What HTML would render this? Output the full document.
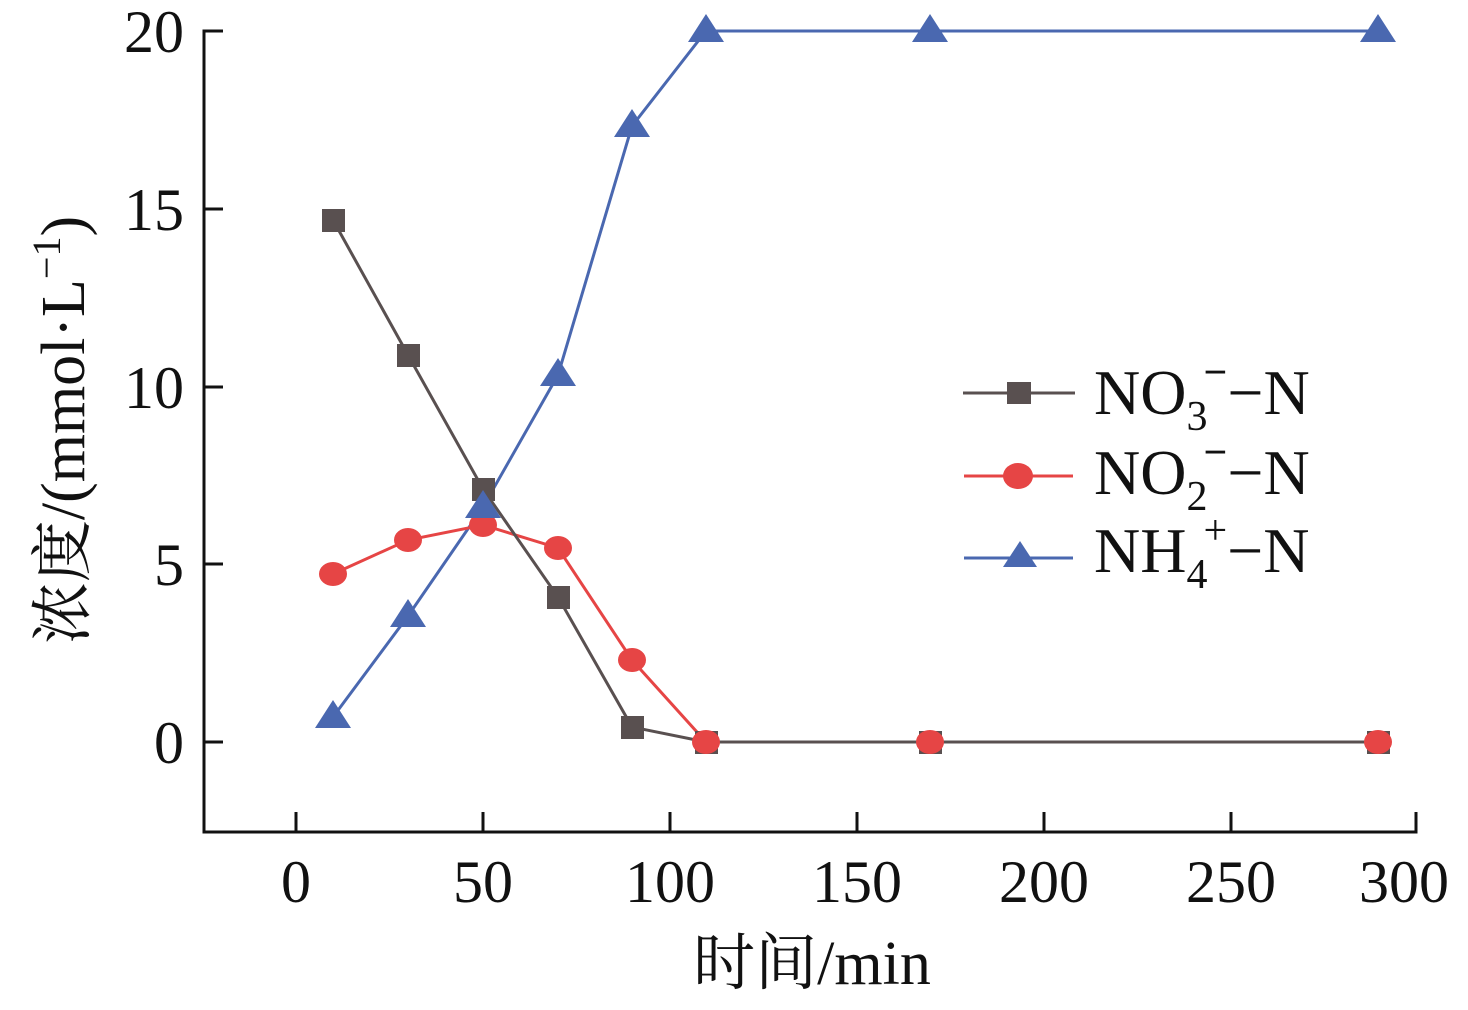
<!DOCTYPE html>
<html><head><meta charset="utf-8"><style>
html,body{margin:0;padding:0;background:#fff;}
svg text{font-family:"Liberation Serif","Noto Serif CJK SC",serif;fill:#111;}
</style></head><body>
<svg width="1468" height="1005" viewBox="0 0 1468 1005" xmlns="http://www.w3.org/2000/svg">
<g stroke="#111" stroke-width="3" fill="none">
<polyline points="223,31 204,31 204,832 1416,832 1416,812"/>
<line x1="204" y1="209" x2="223" y2="209"/>
<line x1="204" y1="387" x2="223" y2="387"/>
<line x1="204" y1="564" x2="223" y2="564"/>
<line x1="204" y1="742" x2="223" y2="742"/>
<line x1="296" y1="832" x2="296" y2="812"/>
<line x1="483" y1="832" x2="483" y2="812"/>
<line x1="670" y1="832" x2="670" y2="812"/>
<line x1="857" y1="832" x2="857" y2="812"/>
<line x1="1044" y1="832" x2="1044" y2="812"/>
<line x1="1231" y1="832" x2="1231" y2="812"/>
</g>
<g font-size="60" text-anchor="end">
<text x="184" y="52">20</text><text x="184" y="230">15</text><text x="184" y="408">10</text><text x="184" y="585">5</text><text x="184" y="763">0</text>
</g>
<g font-size="60" text-anchor="middle">
<text x="296" y="902">0</text><text x="483" y="902">50</text><text x="670" y="902">100</text><text x="857" y="902">150</text><text x="1044" y="902">200</text><text x="1231" y="902">250</text><text x="1404" y="902">300</text>
</g>
<text x="812" y="984" font-size="62" text-anchor="middle">时间/min</text>
<text transform="translate(84,430) rotate(-90)" font-size="62" text-anchor="middle">浓度/(mmol·L<tspan dy="-24" font-size="40">−1</tspan><tspan dy="24">)</tspan></text>
<polyline fill="none" stroke="#4a68b0" stroke-width="3" points="333,717 408,616 483,507 558,375 632,126 706,31 930,31 1378,31"/>
<polyline fill="none" stroke="#e64545" stroke-width="3" points="333,574 408,540 483,525 558,548 632,660 706,742 930,742 1378,742"/>
<polyline fill="none" stroke="#595050" stroke-width="3" points="333,220 408,355 483,489 558,597 632,727 706,742 930,742 1378,742"/>
<g fill="#595050">
<rect x="322" y="209" width="23" height="23"/><rect x="397" y="344" width="23" height="23"/><rect x="472" y="478" width="23" height="23"/><rect x="547" y="586" width="23" height="23"/><rect x="621" y="716" width="23" height="23"/><rect x="695" y="731" width="23" height="23"/><rect x="919" y="731" width="23" height="23"/><rect x="1367" y="731" width="23" height="23"/>
</g>
<g fill="#e64545">
<ellipse cx="333" cy="574" rx="14" ry="12"/><ellipse cx="408" cy="540" rx="14" ry="12"/><ellipse cx="483" cy="525" rx="14" ry="12"/><ellipse cx="558" cy="548" rx="14" ry="12"/><ellipse cx="632" cy="660" rx="14" ry="12"/><ellipse cx="706" cy="742" rx="14" ry="12"/><ellipse cx="930" cy="742" rx="14" ry="12"/><ellipse cx="1378" cy="742" rx="14" ry="12"/>
</g>
<g fill="#4a68b0">
<polygon points="333,700 351,728 315,728"/><polygon points="408,599 426,627 390,627"/><polygon points="483,490 501,518 465,518"/><polygon points="558,358 576,386 540,386"/><polygon points="632,109 650,137 614,137"/><polygon points="706,14 724,42 688,42"/><polygon points="930,14 948,42 912,42"/><polygon points="1378,14 1396,42 1360,42"/>
</g>
<line x1="963" y1="393" x2="1075" y2="393" stroke="#595050" stroke-width="3"/>
<rect x="1007" y="382" width="24" height="22" fill="#595050"/>
<line x1="964" y1="476" x2="1073" y2="476" stroke="#e64545" stroke-width="3"/>
<ellipse cx="1018" cy="476" rx="15" ry="13" fill="#e64545"/>
<line x1="964" y1="558" x2="1073" y2="558" stroke="#4a68b0" stroke-width="3"/>
<polygon points="1020,541 1037,567 1003,567" fill="#4a68b0"/>
<g font-size="64">
<text x="1094" y="414">NO<tspan font-size="42" dy="16">3</tspan><tspan font-size="42" font-weight="bold" dx="-4" dy="-44">−</tspan><tspan dy="28">−N</tspan></text>
<text x="1094" y="494">NO<tspan font-size="42" dy="16">2</tspan><tspan font-size="42" font-weight="bold" dx="-4" dy="-44">−</tspan><tspan dy="28">−N</tspan></text>
<text x="1094" y="572">NH<tspan font-size="42" dy="16">4</tspan><tspan font-size="42" dx="-4" dy="-44">+</tspan><tspan dy="28">−N</tspan></text>
</g>
</svg>
</body></html>
